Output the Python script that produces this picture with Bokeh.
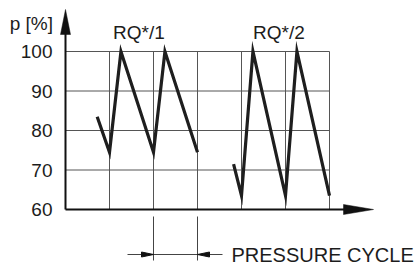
from bokeh.plotting import figure
from bokeh.models import Range1d
from bokeh.embed import file_html
from bokeh.resources import INLINE
from bokeh.core.properties import value

# ---- data ----
y_ticks = [60, 70, 80, 90, 100]
y_tick_labels = ["60", "70", "80", "90", "100"]
x_grid = [1, 2, 3, 4, 5, 6]
rq1_x = [0.72, 1.0, 1.26, 2.0, 2.26, 3.0]
rq1_y = [83.5, 74.5, 100, 74.5, 100, 74.5]
rq2_x = [3.82, 4.0, 4.26, 5.0, 5.26, 6.0]
rq2_y = [71.5, 63.5, 100, 63.5, 100, 63.5]
series_labels = ["RQ*/1", "RQ*/2"]
series_label_x = [1.67, 4.85]
y_label = "p [%]"
x_label = "PRESSURE CYCLE"
cycle_start, cycle_end = 2, 3
x_axis_end = 7.0

# ---- layout constants ----
W, H = 420, 264
SX, SY = 44.0, 3.95
x0 = -65 / SX
x1 = x0 + W / SX
y1 = 100 + 51 / SY
y0 = y1 - H / SY
FONT = value("Liberation Sans")
TXT = "#1c1c1c"
INK = "#111111"

p = figure(width=W, height=H, x_range=Range1d(x0, x1), y_range=Range1d(y0, y1),
           x_axis_type=None, y_axis_type=None, toolbar_location=None,
           output_backend="svg", min_border=0, outline_line_color=None)
p.background_fill_color = "white"
p.border_fill_color = "white"

ymin, ymax = min(y_ticks), max(y_ticks)
xmax = max(x_grid)

# grid
p.segment(x0=x_grid, y0=[ymin] * len(x_grid), x1=x_grid, y1=[ymax] * len(x_grid),
          line_color="#555555", line_width=1)
hy = [t for t in y_ticks if t > ymin]
p.segment(x0=[0] * len(hy), y0=hy, x1=[xmax] * len(hy), y1=hy,
          line_color="#555555", line_width=1)

# axes lines + arrowheads
y_tip = ymin + 200 / SY
y_base = y_tip - 25 / SY
p.segment(x0=[0], y0=[ymin], x1=[0], y1=[y_base + 1 / SY], line_color=INK, line_width=2)
p.patch(x=[0, -5 / SX, 5 / SX], y=[y_tip, y_base, y_base], color=INK, line_width=0.5)
x_base = x_axis_end - 30 / SX
p.segment(x0=[0], y0=[ymin], x1=[x_base + 1 / SX], y1=[ymin], line_color=INK, line_width=2)
p.patch(x=[x_axis_end, x_base, x_base], y=[ymin, ymin + 5 / SY, ymin - 5 / SY], color=INK, line_width=0.5)

# data lines
p.line(rq1_x, rq1_y, line_color="#1e1e1e", line_width=3.2, line_join="miter")
p.line(rq2_x, rq2_y, line_color="#1e1e1e", line_width=3.2, line_join="miter")

# tick labels
p.text(x=[-13 / SX] * len(y_ticks), y=y_ticks, text=y_tick_labels, text_align="right",
       text_baseline="middle", text_font=FONT, text_font_size="19px", text_color=TXT)
p.text(x=[-12.5 / SX], y=[100 + 28 / SY], text=[y_label], text_align="right",
       text_baseline="middle", text_font=FONT, text_font_size="19px", text_color=TXT)
p.text(x=series_label_x, y=[100 + 19 / SY] * 2, text=series_labels, text_align="center",
       text_baseline="middle", text_font=FONT, text_font_size="19px", text_color=TXT)

# pressure cycle dimension
dy_top = ymin - 7 / SY
dy_bot = ymin - 51 / SY
dim_y = ymin - 45 / SY
p.segment(x0=[cycle_start, cycle_end], y0=[dy_top] * 2, x1=[cycle_start, cycle_end], y1=[dy_bot] * 2,
          line_color="#444444", line_width=1)
p.segment(x0=[cycle_start - 26 / SX], y0=[dim_y], x1=[cycle_end + 25 / SX], y1=[dim_y],
          line_color="#444444", line_width=1)
al, ah = 12 / SX, 2.5 / SY
p.patch(x=[cycle_start, cycle_start - al, cycle_start - al], y=[dim_y, dim_y + ah, dim_y - ah], color=INK)
p.patch(x=[cycle_end, cycle_end + al, cycle_end + al], y=[dim_y, dim_y + ah, dim_y - ah], color=INK)
p.text(x=[(231 - 65) / SX], y=[dim_y], text=[x_label], text_align="left", text_baseline="middle",
       text_font=FONT, text_font_size="20px", text_color=TXT)

open("out.html", "w").write(file_html(p, INLINE))
